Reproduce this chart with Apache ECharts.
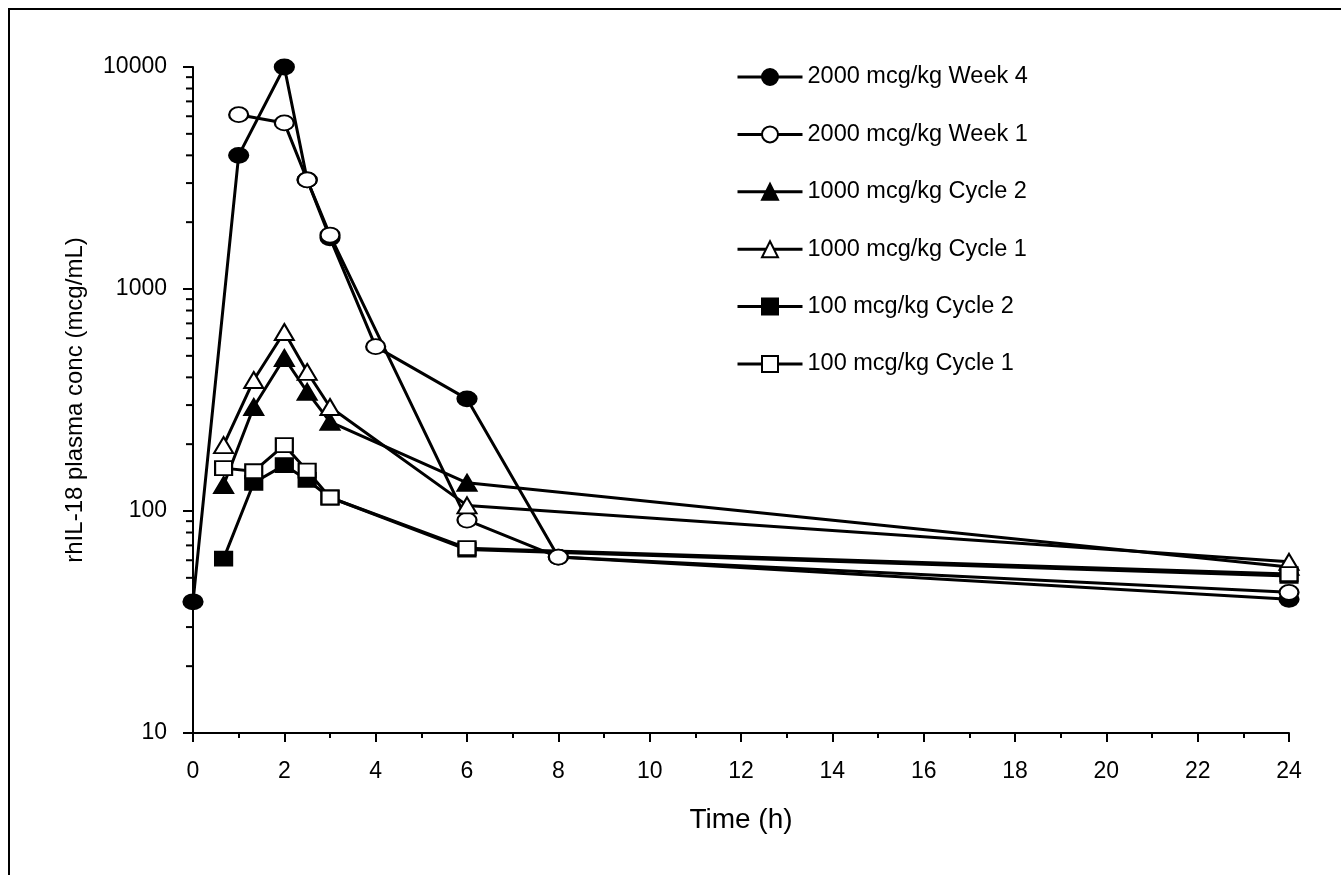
<!DOCTYPE html>
<html>
<head>
<meta charset="utf-8">
<script src="https://cdn.jsdelivr.net/npm/echarts@6/dist/echarts.min.js"></script>
<style>
html,body{margin:0;padding:0;background:#fff;}
#chart{width:1341px;height:875px;}
</style>
</head>
<body>
<div id="chart"></div>
<script>
// Data
var seriesNames = ['2000 mcg/kg Week 4','2000 mcg/kg Week 1','1000 mcg/kg Cycle 2','1000 mcg/kg Cycle 1','100 mcg/kg Cycle 2','100 mcg/kg Cycle 1'];
var week4Time = [0, 1, 2, 2.5, 3, 4, 6, 8, 24];
var week4Conc = [39, 4000, 10000, 3100, 1700, 550, 320, 62, 40];
var week1Time = [1, 2, 2.5, 3, 6, 8, 24];
var week1Conc = [6100, 5600, 3100, 1750, 91, 62, 43];
var c2_1000Time = [0.67, 1.33, 2, 2.5, 3, 6, 24];
var c2_1000Conc = [131, 294, 489, 344, 252, 134, 56];
var c1_1000Time = [0.67, 1.33, 2, 2.5, 3, 6, 24];
var c1_1000Conc = [198, 389, 640, 423, 294, 106, 59];
var c2_100Time = [0.67, 1.33, 2, 2.5, 3, 6, 24];
var c2_100Conc = [61, 134, 161, 138, 115, 67, 51];
var c1_100Time = [0.67, 1.33, 2, 2.5, 3, 6, 24];
var c1_100Conc = [156, 151, 198, 152, 115, 68, 52];
var xTicks = [0,2,4,6,8,10,12,14,16,18,20,22,24];
var yTicks = [10,100,1000,10000];

function pairs(t, c){ return t.map(function(x,i){ return [x, c[i]]; }); }

var FONT = 'Liberation Sans, Arial, sans-serif';
var chart = echarts.init(document.getElementById('chart'));

// minor log ticks (2..9 per decade)
var minorTicks = [];
for (var d = 10; d < 10000; d *= 10) {
  for (var k = 2; k <= 9; k++) minorTicks.push([0, k * d]);
}

function mk(name, data, symbol, filled, size) {
  return {
    name: name, type: 'line', data: data,
    symbol: symbol, symbolSize: size,
    showSymbol: true,
    lineStyle: {color: '#000', width: 3},
    itemStyle: {color: filled ? '#000' : '#fff', borderColor: '#000', borderWidth: 2},
    emphasis: {disabled: true},
    animation: false,
    z: 3
  };
}

var week4Data = pairs(week4Time, week4Conc).map(function(p){
  if (p[0] === 4) return {value: p, itemStyle: {color: '#fff'}};
  return p;
});

var option = {
  animation: false,
  backgroundColor: '#fff',
  graphic: [{
    type: 'rect', shape: {x: 9, y: 9, width: 1400, height: 900},
    style: {fill: 'none', stroke: '#000', lineWidth: 2}, silent: true
  }],
  grid: {left: 193, right: 52, top: 67, bottom: 142, containLabel: false},
  legend: {
    orient: 'vertical', left: 736, top: 65, padding: 0,
    itemWidth: 65, itemHeight: 20, itemGap: 33.4,
    lineStyle: {width: 3},
    textStyle: {fontFamily: FONT, fontSize: 23.5, color: '#000', lineHeight: 24},
    data: seriesNames,
    selectedMode: false
  },
  xAxis: {
    type: 'value', min: 0, max: 24, interval: 2,
    name: 'Time (h)', nameLocation: 'middle', nameGap: 73, nameMoveOverlap: false,
    nameTextStyle: {fontFamily: FONT, fontSize: 28, color: '#000'},
    axisLine: {show: true, onZero: false, lineStyle: {color: '#000', width: 2}},
    axisTick: {show: true, inside: false, length: 9, lineStyle: {color: '#000', width: 2}},
    minorTick: {show: true, splitNumber: 2, length: 5, lineStyle: {color: '#000', width: 2}},
    axisLabel: {fontFamily: FONT, fontSize: 23, color: '#000', margin: 27,
      formatter: function(v){ return xTicks.indexOf(v) >= 0 ? String(v) : ''; }},
    splitLine: {show: false}
  },
  yAxis: {
    type: 'log', logBase: 10, min: 10, max: 10000,
    name: 'rhIL-18 plasma conc (mcg/mL)', nameLocation: 'middle', nameGap: 106, nameMoveOverlap: false,
    nameTextStyle: {fontFamily: FONT, fontSize: 24, color: '#000'},
    axisLine: {show: true, onZero: false, lineStyle: {color: '#000', width: 2}},
    axisTick: {show: true, inside: false, length: 10, lineStyle: {color: '#000', width: 2}},
    axisLabel: {fontFamily: FONT, fontSize: 23, color: '#000', margin: 26,
      formatter: function(v){ var r = Math.round(v); return yTicks.indexOf(r) >= 0 ? String(r) : ''; }},
    splitLine: {show: false}
  },
  series: [
    {
      type: 'custom', name: 'minor', data: minorTicks, silent: true, clip: false, z: 1,
      renderItem: function(params, api){
        var p = api.coord([0, api.value(1)]);
        return {type: 'line', shape: {x1: p[0] - 7, y1: p[1], x2: p[0], y2: p[1]},
                style: {stroke: '#000', lineWidth: 2}};
      }
    },
    mk(seriesNames[0], week4Data, 'circle', true, [19, 15]),
    mk(seriesNames[1], pairs(week1Time, week1Conc), 'circle', false, [19, 15]),
    mk(seriesNames[2], pairs(c2_1000Time, c2_1000Conc), 'triangle', true, [19, 16]),
    mk(seriesNames[3], pairs(c1_1000Time, c1_1000Conc), 'triangle', false, [19, 16]),
    mk(seriesNames[4], pairs(c2_100Time, c2_100Conc), 'rect', true, [17, 14]),
    mk(seriesNames[5], pairs(c1_100Time, c1_100Conc), 'rect', false, [17, 14])
  ]
};
chart.setOption(option);
</script>
</body>
</html>
